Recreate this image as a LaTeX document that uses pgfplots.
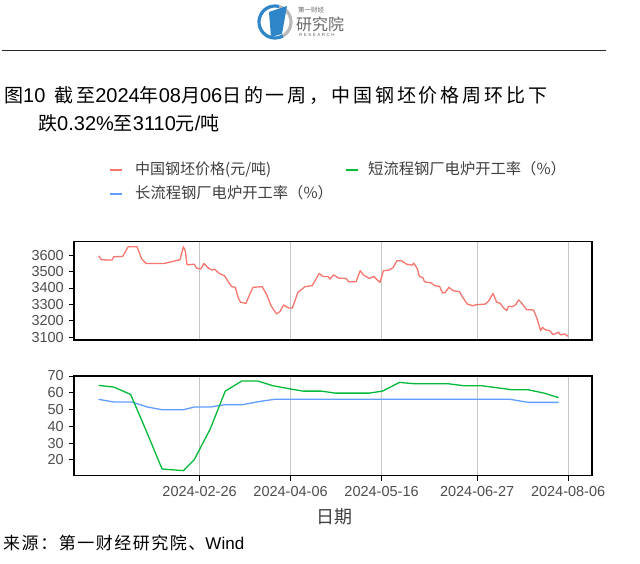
\documentclass[border=0pt]{standalone}
\usepackage{pgfplots}
\pgfplotsset{compat=1.18}
\usepackage{fontspec}
\setmainfont{Liberation Sans}
\newfontfamily\cjk{Noto Sans CJK SC}
\newfontfamily\cjkt[LetterSpace=15]{Noto Sans CJK SC}
\newfontfamily\cjks[LetterSpace=9]{Noto Sans CJK SC}
\newcommand\T[1]{{\cjkt\fontsize{19}{19}\selectfont #1}}
\definecolor{cred}{HTML}{F8766D}
\definecolor{cgreen}{HTML}{00BA38}
\definecolor{cblue}{HTML}{619CFF}
\definecolor{tickgray}{HTML}{4D4D4D}
\definecolor{logoblue}{HTML}{2E86C8}
\pgfplotsset{
  panel/.style={
    scale only axis, width=518pt,
    xmin=0.8, xmax=228.5,
    axis line style={line width=1.1pt, black},
    xtick={56,96,136,178,218},
    xmajorgrids, grid style={draw=gray!45, line width=0.8pt},
    tick align=outside, xtick pos=bottom, ytick pos=left,
    major tick length=5pt,
    tick style={line width=0.9pt, black},
    ticklabel style={font=\fontsize{14.5}{14.5}\selectfont, text=tickgray},
    /pgf/number format/assume math mode=true,
    /pgf/number format/1000 sep={},
    yticklabel style={inner sep=0pt, xshift=-5pt},
    clip=false,
  }
}
\begin{document}
\begin{tikzpicture}[x=1pt,y=1pt]
\useasboundingbox (0,0) rectangle (640,563);
% logo
\draw[line width=3.2pt, gray!55] (275,541) ++(-60:16) arc (-60:75:16);
\draw[line width=3.2pt, logoblue] (275,541) ++(75:16) arc (75:300:16);
\fill[logoblue] (269,551) -- (287,557) -- (282,529) -- (271,526) -- cycle;
\node[anchor=west, inner sep=0, font=\cjk\fontsize{6.5}{6.5}\selectfont, text=gray!80!black] at (298,553) {第一财经};
\node[anchor=west, inner sep=0, font=\cjk\fontsize{16}{16}\selectfont, text=gray!80!black] at (296,539) {研究院};
\node[anchor=west, inner sep=0, font=\fontsize{4.5}{4.5}\selectfont, text=gray!80!black] at (299,528) {R\,\,E\,\,S\,\,E\,\,A\,\,R\,\,C\,\,H};
\draw[line width=1pt, black!85] (2,512) -- (606,512);
% title
\node[anchor=base west, inner sep=0, font=\fontsize{20}{20}\selectfont] at (4,460)
  {\T{图}10\hspace{0.45em}\T{截至}2024\T{年}08\T{月}06\T{日的一周，中国钢坯价格周环比下}};
\node[anchor=base west, inner sep=0, font=\fontsize{20}{20}\selectfont] at (38,432)
  {\T{跌}0.32\%\T{至}3110\T{元}/\T{吨}};
% legend
\draw[cred, line width=1.6pt] (110,393) -- (122,393);
\node[anchor=base west, inner sep=0, font=\cjk\fontsize{15}{15}\selectfont, text=tickgray!80!black] at (135,388) {中国钢坯价格(元/吨)};
\draw[cgreen, line width=1.6pt] (346,393) -- (358,393);
\node[anchor=base west, inner sep=0, font=\cjk\fontsize{15.3}{15.3}\selectfont, text=tickgray!80!black] at (368,388) {短流程钢厂电炉开工率（\%）};
\draw[cblue, line width=1.6pt] (110,369) -- (122,369);
\node[anchor=base west, inner sep=0, font=\cjk\fontsize{15.3}{15.3}\selectfont, text=tickgray!80!black] at (135,364) {长流程钢厂电炉开工率（\%）};
% top panel
\begin{axis}[panel, at={(74pt,223pt)}, anchor=south west, height=98.3pt,
  ymin=3083, ymax=3682, ytick={3100,3200,3300,3400,3500,3600},
  xticklabels={}, x tick style={draw=none}]
\addplot[cred, line width=1.3pt, line join=round] coordinates {
(11.6,3596) (12.8,3572) (17.5,3570) (18.3,3590) (22.2,3592) (24.6,3651) (28.5,3651) (30.6,3576) (32.5,3549) (40.3,3549) (47.4,3572) (48.9,3651) (49.7,3626) (50.5,3541) (53.6,3545) (54.7,3521) (56.5,3515) (57.9,3549) (59.9,3521) (61.5,3509) (62.6,3515) (64.6,3489) (67,3474) (68.6,3438) (70.1,3408) (71.7,3404) (73,3340) (74,3313) (76.4,3306) (78,3360) (79.5,3404) (83.5,3408) (85.5,3360) (87.4,3292) (89.8,3242) (91.3,3256) (92.9,3296) (95.2,3278) (96.8,3278) (99.2,3373) (102.3,3408) (105.5,3414) (108.6,3489) (110.2,3470) (112.5,3470) (113.3,3454) (114.9,3480) (117.2,3460) (120.4,3458) (121.6,3438) (124.8,3438) (126.6,3505) (128.2,3478) (130.6,3458) (132.6,3470) (134.5,3444) (135.3,3434) (136.8,3505) (139.2,3509) (141.1,3525) (142.7,3566) (144.7,3566) (147,3545) (149.4,3539) (150.2,3551) (151.8,3515) (152.6,3470) (154.1,3464) (154.9,3438) (158,3430) (159.3,3414) (161.5,3410) (162.8,3369) (164,3373) (165.6,3404) (167.5,3383) (170.3,3377) (171.4,3349) (173.7,3302) (176.1,3292) (177.7,3298) (181.6,3302) (183.2,3323) (185,3367) (186.6,3313) (188.2,3306) (189.4,3282) (191,3262) (191.8,3288) (193.4,3286) (195,3298) (196.2,3327) (197.3,3313) (199.7,3268) (202.8,3266) (204.4,3211) (205.9,3140) (206.7,3160) (208,3145) (209.8,3140) (211.4,3116) (213.8,3130) (214.6,3114) (216.5,3120) (217.7,3106) (218,3110)
};
\end{axis}
% bottom panel
\begin{axis}[panel, at={(74pt,87.3pt)}, anchor=south west, height=99.7pt,
  ymin=10.6, ymax=70, ytick={20,30,40,50,60,70},
  xticklabels={2024-02-26,2024-04-06,2024-05-16,2024-06-27,2024-08-06},
  xticklabel style={yshift=-2pt}]
\addplot[cblue, line width=1.3pt, line join=round] coordinates {
(11.6,56.1) (18.3,54.5) (26.2,54.5) (33.2,51.5) (39.5,49.9) (48.9,49.9) (53.6,51.5) (60.7,51.5) (67,52.9) (74.8,52.9) (82.7,54.9) (89,56.1) (192.6,56.1) (200.4,54.3) (213.8,54.3)
};
\addplot[cgreen, line width=1.3pt, line join=round] coordinates {
(11.6,64.4) (18.3,63.4) (25.7,59.0) (32.5,37.5) (39.5,14.6) (48.9,13.6) (53.6,20.0) (60.7,38.5) (67.3,61.0) (74.5,67.0) (81.6,67.0) (88.2,64.2) (96.3,62.2) (101.5,61.0) (109.4,61.0) (115.7,59.8) (130.6,59.8) (136.4,61.0) (143.9,66.2) (150.2,65.4) (165.1,65.4) (172.2,64.2) (180,64.2) (193.4,61.8) (200.4,61.8) (207.5,59.8) (213.8,57.1)
};
\end{axis}
\node[inner sep=0, font=\cjk\fontsize{18}{18}\selectfont, text=tickgray!80!black] at (334,46) {日期};
% source
\node[anchor=base west, inner sep=0, font=\fontsize{17}{17}\selectfont] at (3,14)
  {{\cjks 来源：第一财经研究院、}Wind};
\end{tikzpicture}
\end{document}
